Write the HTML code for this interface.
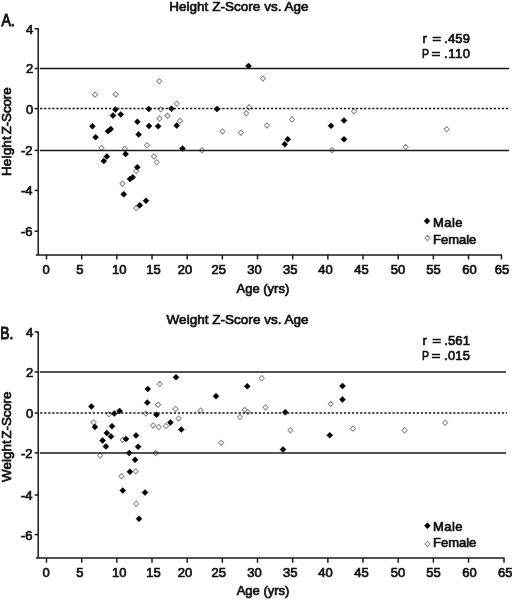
<!DOCTYPE html>
<html><head><meta charset="utf-8"><title>Z-Score vs. Age</title>
<style>
html,body{margin:0;padding:0;background:#fff;}
body{width:512px;height:599px;overflow:hidden;}
svg{display:block;filter:grayscale(1) blur(0.4px);}
text{font-family:"Liberation Sans",sans-serif;fill:#111;stroke:#111;stroke-width:0.7px;}
.t text{font-size:13px;}
.l{font-size:13px;}
.ti{font-size:13.5px;}
.yl{font-size:13.4px;}
.pl{font-size:16px;stroke-width:0.9px;}
</style></head><body>
<svg width="512" height="599" viewBox="0 0 512 599">
<rect width="512" height="599" fill="#fff"/>
<path fill="none" stroke="#868686" stroke-width="1.05" stroke-linejoin="round" d="M95.00 92.10L97.65 94.75L95.00 97.40L92.35 94.75ZM101.50 145.35L104.15 148.00L101.50 150.65L98.85 148.00ZM115.75 91.75L118.40 94.40L115.75 97.05L113.10 94.40ZM122.50 181.05L125.15 183.70L122.50 186.35L119.85 183.70ZM124.75 146.35L127.40 149.00L124.75 151.65L122.10 149.00ZM136.20 168.35L138.85 171.00L136.20 173.65L133.55 171.00ZM136.25 205.35L138.90 208.00L136.25 210.65L133.60 208.00ZM147.00 142.60L149.65 145.25L147.00 147.90L144.35 145.25ZM154.00 153.75L156.65 156.40L154.00 159.05L151.35 156.40ZM156.75 159.60L159.40 162.25L156.75 164.90L154.10 162.25ZM159.25 78.60L161.90 81.25L159.25 83.90L156.60 81.25ZM159.50 115.95L162.15 118.60L159.50 121.25L156.85 118.60ZM160.75 106.60L163.40 109.25L160.75 111.90L158.10 109.25ZM167.40 113.05L170.05 115.70L167.40 118.35L164.75 115.70ZM176.75 101.10L179.40 103.75L176.75 106.40L174.10 103.75ZM179.90 118.15L182.55 120.80L179.90 123.45L177.25 120.80ZM202.00 147.60L204.65 150.25L202.00 152.90L199.35 150.25ZM222.50 128.85L225.15 131.50L222.50 134.15L219.85 131.50ZM241.00 130.10L243.65 132.75L241.00 135.40L238.35 132.75ZM246.25 110.60L248.90 113.25L246.25 115.90L243.60 113.25ZM249.00 104.60L251.65 107.25L249.00 109.90L246.35 107.25ZM263.00 75.85L265.65 78.50L263.00 81.15L260.35 78.50ZM267.00 122.85L269.65 125.50L267.00 128.15L264.35 125.50ZM292.00 116.85L294.65 119.50L292.00 122.15L289.35 119.50ZM332.00 147.60L334.65 150.25L332.00 152.90L329.35 150.25ZM354.00 108.60L356.65 111.25L354.00 113.90L351.35 111.25ZM405.75 144.35L408.40 147.00L405.75 149.65L403.10 147.00ZM446.75 126.60L449.40 129.25L446.75 131.90L444.10 129.25Z"/>
<path fill="#000" stroke="#000" stroke-width="0.5" stroke-linejoin="round" d="M92.40 123.25L95.40 126.25L92.40 129.25L89.40 126.25ZM95.60 134.20L98.60 137.20L95.60 140.20L92.60 137.20ZM103.75 158.10L106.75 161.10L103.75 164.10L100.75 161.10ZM106.90 153.50L109.90 156.50L106.90 159.50L103.90 156.50ZM108.00 128.20L111.00 131.20L108.00 134.20L105.00 131.20ZM110.70 126.00L113.70 129.00L110.70 132.00L107.70 129.00ZM113.00 112.60L116.00 115.60L113.00 118.60L110.00 115.60ZM115.50 106.50L118.50 109.50L115.50 112.50L112.50 109.50ZM120.75 111.40L123.75 114.40L120.75 117.40L117.75 114.40ZM125.60 151.00L128.60 154.00L125.60 157.00L122.60 154.00ZM123.75 191.25L126.75 194.25L123.75 197.25L120.75 194.25ZM130.00 176.00L133.00 179.00L130.00 182.00L127.00 179.00ZM132.70 174.20L135.70 177.20L132.70 180.20L129.70 177.20ZM137.30 164.20L140.30 167.20L137.30 170.20L134.30 167.20ZM137.40 118.75L140.40 121.75L137.40 124.75L134.40 121.75ZM138.60 131.40L141.60 134.40L138.60 137.40L135.60 134.40ZM139.75 202.25L142.75 205.25L139.75 208.25L136.75 205.25ZM146.00 197.75L149.00 200.75L146.00 203.75L143.00 200.75ZM148.80 106.00L151.80 109.00L148.80 112.00L145.80 109.00ZM149.00 123.00L152.00 126.00L149.00 129.00L146.00 126.00ZM158.10 123.30L161.10 126.30L158.10 129.30L155.10 126.30ZM171.50 105.75L174.50 108.75L171.50 111.75L168.50 108.75ZM176.75 122.60L179.75 125.60L176.75 128.60L173.75 125.60ZM182.50 145.50L185.50 148.50L182.50 151.50L179.50 148.50ZM217.00 106.00L220.00 109.00L217.00 112.00L214.00 109.00ZM248.50 63.00L251.50 66.00L248.50 69.00L245.50 66.00ZM284.75 141.25L287.75 144.25L284.75 147.25L281.75 144.25ZM287.75 136.25L290.75 139.25L287.75 142.25L284.75 139.25ZM331.00 122.75L334.00 125.75L331.00 128.75L328.00 125.75ZM344.00 117.50L347.00 120.50L344.00 123.50L341.00 120.50ZM344.00 136.25L347.00 139.25L344.00 142.25L341.00 139.25Z"/>
<g stroke="#1a1a1a" stroke-width="1.5" fill="none">
<path d="M38.2 28.15V254.9"/>
<path d="M35.800000000000004 254.9H502"/>
<path d="M34.60 28.75H38.2"/>
<path d="M34.60 68.5H38.2"/>
<path d="M34.60 108.6H38.2"/>
<path d="M34.60 150.4H38.2"/>
<path d="M34.60 190.4H38.2"/>
<path d="M34.60 231.2H38.2"/>
<path d="M46.50 254.9V259.50"/>
<path d="M81.67 254.9V259.50"/>
<path d="M116.84 254.9V259.50"/>
<path d="M152.01 254.9V259.50"/>
<path d="M187.18 254.9V259.50"/>
<path d="M222.35 254.9V259.50"/>
<path d="M257.52 254.9V259.50"/>
<path d="M292.69 254.9V259.50"/>
<path d="M327.86 254.9V259.50"/>
<path d="M363.03 254.9V259.50"/>
<path d="M398.20 254.9V259.50"/>
<path d="M433.37 254.9V259.50"/>
<path d="M468.54 254.9V259.50"/>
<path d="M501.50 254.9V259.50"/>
<path d="M39.800000000000004 68.5H509"/>
<path d="M39.800000000000004 150.4H509"/>
<path d="M40.1 108.6H510" stroke-width="1.5" stroke-dasharray="2.3 1.75"/>
</g>
<g class="t">
<text x="33.2" y="33.65" text-anchor="end">4</text>
<text x="33.2" y="73.40" text-anchor="end">2</text>
<text x="33.2" y="113.50" text-anchor="end">0</text>
<text x="32.6" y="155.30" text-anchor="end">-2</text>
<text x="32.6" y="195.30" text-anchor="end">-4</text>
<text x="32.6" y="236.10" text-anchor="end">-6</text>
<text x="46.10" y="274.30" text-anchor="middle">0</text>
<text x="79.90" y="274.30" text-anchor="middle">5</text>
<text x="119.20" y="274.30" text-anchor="middle">10</text>
<text x="153.50" y="274.30" text-anchor="middle">15</text>
<text x="185.00" y="274.30" text-anchor="middle">20</text>
<text x="218.85" y="274.30" text-anchor="middle">25</text>
<text x="254.50" y="274.30" text-anchor="middle">30</text>
<text x="290.30" y="274.30" text-anchor="middle">35</text>
<text x="325.50" y="274.30" text-anchor="middle">40</text>
<text x="361.50" y="274.30" text-anchor="middle">45</text>
<text x="397.90" y="274.30" text-anchor="middle">50</text>
<text x="433.40" y="274.30" text-anchor="middle">55</text>
<text x="469.50" y="274.30" text-anchor="middle">60</text>
<text x="502.00" y="274.30" text-anchor="middle">65</text>
</g>
<path fill="none" stroke="#868686" stroke-width="1.05" stroke-linejoin="round" d="M93.60 419.75L96.25 422.40L93.60 425.05L90.95 422.40ZM100.25 452.85L102.90 455.50L100.25 458.15L97.60 455.50ZM108.90 411.60L111.55 414.25L108.90 416.90L106.25 414.25ZM121.40 473.60L124.05 476.25L121.40 478.90L118.75 476.25ZM122.70 437.10L125.35 439.75L122.70 442.40L120.05 439.75ZM135.75 468.60L138.40 471.25L135.75 473.90L133.10 471.25ZM136.10 501.10L138.75 503.75L136.10 506.40L133.45 503.75ZM145.90 410.85L148.55 413.50L145.90 416.15L143.25 413.50ZM153.10 422.85L155.75 425.50L153.10 428.15L150.45 425.50ZM155.60 450.35L158.25 453.00L155.60 455.65L152.95 453.00ZM158.10 402.05L160.75 404.70L158.10 407.35L155.45 404.70ZM158.75 424.35L161.40 427.00L158.75 429.65L156.10 427.00ZM159.75 381.35L162.40 384.00L159.75 386.65L157.10 384.00ZM166.00 423.35L168.65 426.00L166.00 428.65L163.35 426.00ZM175.60 406.25L178.25 408.90L175.60 411.55L172.95 408.90ZM178.60 415.85L181.25 418.50L178.60 421.15L175.95 418.50ZM200.50 407.85L203.15 410.50L200.50 413.15L197.85 410.50ZM221.25 440.10L223.90 442.75L221.25 445.40L218.60 442.75ZM240.00 414.35L242.65 417.00L240.00 419.65L237.35 417.00ZM244.75 407.35L247.40 410.00L244.75 412.65L242.10 410.00ZM247.75 409.35L250.40 412.00L247.75 414.65L245.10 412.00ZM261.75 375.60L264.40 378.25L261.75 380.90L259.10 378.25ZM265.50 404.60L268.15 407.25L265.50 409.90L262.85 407.25ZM290.50 427.60L293.15 430.25L290.50 432.90L287.85 430.25ZM330.75 401.35L333.40 404.00L330.75 406.65L328.10 404.00ZM353.00 425.85L355.65 428.50L353.00 431.15L350.35 428.50ZM404.50 427.60L407.15 430.25L404.50 432.90L401.85 430.25ZM445.25 420.10L447.90 422.75L445.25 425.40L442.60 422.75Z"/>
<path fill="#000" stroke="#000" stroke-width="0.5" stroke-linejoin="round" d="M91.40 403.50L94.40 406.50L91.40 409.50L88.40 406.50ZM94.90 424.00L97.90 427.00L94.90 430.00L91.90 427.00ZM102.60 437.50L105.60 440.50L102.60 443.50L99.60 440.50ZM105.90 443.40L108.90 446.40L105.90 449.40L102.90 446.40ZM106.75 430.00L109.75 433.00L106.75 436.00L103.75 433.00ZM111.00 433.40L114.00 436.40L111.00 439.40L108.00 436.40ZM112.00 423.25L115.00 426.25L112.00 429.25L109.00 426.25ZM114.25 410.50L117.25 413.50L114.25 416.50L111.25 413.50ZM119.60 408.00L122.60 411.00L119.60 414.00L116.60 411.00ZM126.00 435.90L129.00 438.90L126.00 441.90L123.00 438.90ZM129.20 450.10L132.20 453.10L129.20 456.10L126.20 453.10ZM122.75 487.50L125.75 490.50L122.75 493.50L119.75 490.50ZM129.90 468.75L132.90 471.75L129.90 474.75L126.90 471.75ZM135.10 456.75L138.10 459.75L135.10 462.75L132.10 459.75ZM136.00 432.40L139.00 435.40L136.00 438.40L133.00 435.40ZM138.10 443.70L141.10 446.70L138.10 449.70L135.10 446.70ZM139.00 515.75L142.00 518.75L139.00 521.75L136.00 518.75ZM145.00 489.50L148.00 492.50L145.00 495.50L142.00 492.50ZM147.25 399.60L150.25 402.60L147.25 405.60L144.25 402.60ZM147.75 386.00L150.75 389.00L147.75 392.00L144.75 389.00ZM156.50 411.75L159.50 414.75L156.50 417.75L153.50 414.75ZM170.40 419.40L173.40 422.40L170.40 425.40L167.40 422.40ZM176.00 374.25L179.00 377.25L176.00 380.25L173.00 377.25ZM181.30 426.50L184.30 429.50L181.30 432.50L178.30 429.50ZM216.00 393.25L219.00 396.25L216.00 399.25L213.00 396.25ZM247.25 383.25L250.25 386.25L247.25 389.25L244.25 386.25ZM283.00 446.50L286.00 449.50L283.00 452.50L280.00 449.50ZM285.25 409.25L288.25 412.25L285.25 415.25L282.25 412.25ZM329.75 432.25L332.75 435.25L329.75 438.25L326.75 435.25ZM342.50 383.00L345.50 386.00L342.50 389.00L339.50 386.00ZM342.50 396.50L345.50 399.50L342.50 402.50L339.50 399.50Z"/>
<g stroke="#1a1a1a" stroke-width="1.5" fill="none">
<path d="M38.2 331.40V558.1"/>
<path d="M35.800000000000004 558.1H504.5"/>
<path d="M34.60 332H38.2"/>
<path d="M34.60 372H38.2"/>
<path d="M34.60 413.1H38.2"/>
<path d="M34.60 452.9H38.2"/>
<path d="M34.60 495H38.2"/>
<path d="M34.60 534.6H38.2"/>
<path d="M46.50 558.1V562.70"/>
<path d="M81.67 558.1V562.70"/>
<path d="M116.84 558.1V562.70"/>
<path d="M152.01 558.1V562.70"/>
<path d="M187.18 558.1V562.70"/>
<path d="M222.35 558.1V562.70"/>
<path d="M257.52 558.1V562.70"/>
<path d="M292.69 558.1V562.70"/>
<path d="M327.86 558.1V562.70"/>
<path d="M363.03 558.1V562.70"/>
<path d="M398.20 558.1V562.70"/>
<path d="M433.37 558.1V562.70"/>
<path d="M468.54 558.1V562.70"/>
<path d="M504.00 558.1V562.70"/>
<path d="M39.800000000000004 372H506"/>
<path d="M39.800000000000004 452.9H506"/>
<path d="M40.1 413.1H507" stroke-width="1.5" stroke-dasharray="2.3 1.75"/>
</g>
<g class="t">
<text x="33.2" y="336.90" text-anchor="end">4</text>
<text x="33.2" y="376.90" text-anchor="end">2</text>
<text x="33.2" y="418.00" text-anchor="end">0</text>
<text x="32.6" y="457.80" text-anchor="end">-2</text>
<text x="32.6" y="499.90" text-anchor="end">-4</text>
<text x="32.6" y="539.50" text-anchor="end">-6</text>
<text x="46.10" y="576.90" text-anchor="middle">0</text>
<text x="79.90" y="576.90" text-anchor="middle">5</text>
<text x="119.20" y="576.90" text-anchor="middle">10</text>
<text x="153.50" y="576.90" text-anchor="middle">15</text>
<text x="185.00" y="576.90" text-anchor="middle">20</text>
<text x="218.85" y="576.90" text-anchor="middle">25</text>
<text x="254.50" y="576.90" text-anchor="middle">30</text>
<text x="290.30" y="576.90" text-anchor="middle">35</text>
<text x="325.50" y="576.90" text-anchor="middle">40</text>
<text x="361.50" y="576.90" text-anchor="middle">45</text>
<text x="397.90" y="576.90" text-anchor="middle">50</text>
<text x="433.40" y="576.90" text-anchor="middle">55</text>
<text x="469.50" y="576.90" text-anchor="middle">60</text>
<text x="505.30" y="576.90" text-anchor="middle">65</text>
</g>
<text class="ti" x="169.2" y="10.7" textLength="139.4" lengthAdjust="spacing">Height Z-Score vs. Age</text>
<text class="ti" x="166.6" y="324.0" textLength="142.0" lengthAdjust="spacing">Weight Z-Score vs. Age</text>
<text class="pl" x="1.4" y="25.8" textLength="13.4" lengthAdjust="spacingAndGlyphs">A.</text>
<text class="pl" x="0.3" y="339.3" textLength="13.1" lengthAdjust="spacingAndGlyphs">B.</text>
<text class="l" x="236.5" y="293">Age (yrs)</text>
<text class="l" x="236.7" y="595.4">Age (yrs)</text>
<text class="yl" transform="translate(11.0 176.1) rotate(-90)" textLength="39.9" lengthAdjust="spacing">Height</text>
<text class="yl" transform="translate(11.0 134.3) rotate(-90)" textLength="46.9" lengthAdjust="spacing">Z-Score</text>
<text class="yl" transform="translate(10.8 482.1) rotate(-90)" textLength="41.9" lengthAdjust="spacing">Weight</text>
<text class="yl" transform="translate(10.8 438.5) rotate(-90)" textLength="46.9" lengthAdjust="spacing">Z-Score</text>
<g class="l">
<text x="422.4" y="43">r</text><text x="432.2" y="43" textLength="8.9" lengthAdjust="spacingAndGlyphs">=</text><text x="444.3" y="43" textLength="25.6" lengthAdjust="spacing">.459</text>
<text x="422.0" y="58.3" textLength="7.0" lengthAdjust="spacingAndGlyphs">P</text><text x="431.4" y="58.3" textLength="8.9" lengthAdjust="spacingAndGlyphs">=</text><text x="444.1" y="58.3" textLength="25.85" lengthAdjust="spacing">.110</text>
<text x="422.4" y="345.2">r</text><text x="432.2" y="345.2" textLength="8.9" lengthAdjust="spacingAndGlyphs">=</text><text x="444.3" y="345.2" textLength="25.6" lengthAdjust="spacing">.561</text>
<text x="422.0" y="360.2" textLength="7.0" lengthAdjust="spacingAndGlyphs">P</text><text x="431.4" y="360.2" textLength="8.9" lengthAdjust="spacingAndGlyphs">=</text><text x="444.1" y="360.2" textLength="25.85" lengthAdjust="spacing">.015</text>
<text x="433.0" y="226.6" textLength="29.6" lengthAdjust="spacing">Male</text><text x="433.0" y="243.8">Female</text>
<text x="433.0" y="530.6" textLength="29.6" lengthAdjust="spacing">Male</text><text x="433.0" y="547.4">Female</text>
</g>
<path fill="#000" stroke="#000" stroke-width="0.5" stroke-linejoin="round" d="M427.00 218.10L430.00 221.10L427.00 224.10L424.00 221.10ZM427.40 522.70L430.40 525.70L427.40 528.70L424.40 525.70Z"/>
<path fill="none" stroke="#868686" stroke-width="1.05" stroke-linejoin="round" d="M427.50 235.40L430.10 238.00L427.50 240.60L424.90 238.00ZM427.50 541.40L430.10 544.00L427.50 546.60L424.90 544.00Z"/>
</svg>
</body></html>
